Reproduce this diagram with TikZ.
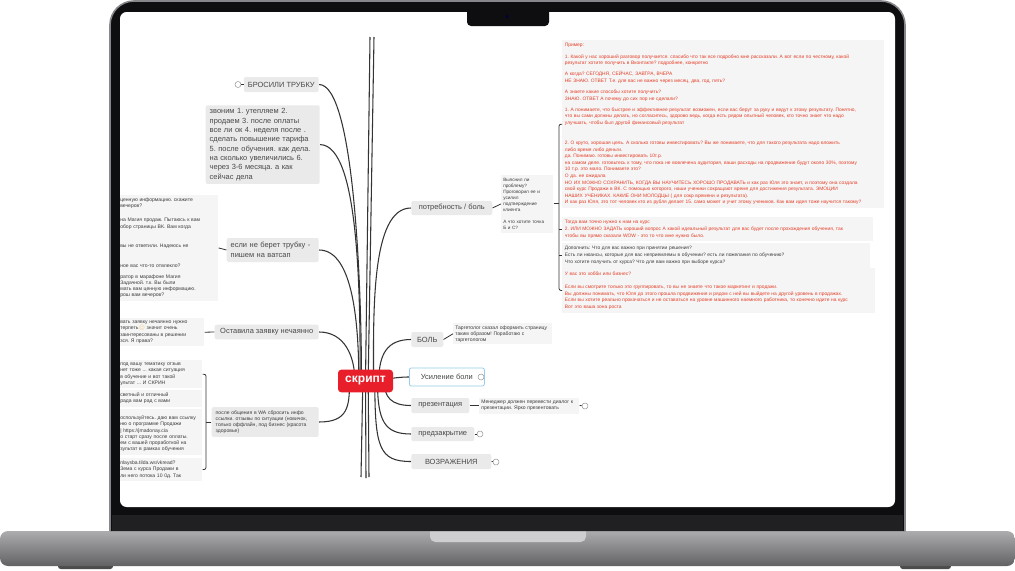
\documentclass[tikz,border=0pt]{standalone}
\usepackage{fontspec}
\setmainfont{Liberation Sans}
\newfontfamily\emojifont{Noto Emoji}
\frenchspacing

\definecolor{lidblack}{RGB}{14,14,16}
\definecolor{lidedge}{RGB}{135,135,139}
\definecolor{hingegray}{RGB}{32,32,34}
\definecolor{basetop}{RGB}{172,172,175}
\definecolor{basemid}{RGB}{150,150,153}
\definecolor{basedark}{RGB}{98,98,101}
\definecolor{notchgray}{RGB}{206,206,209}
\definecolor{rootred}{RGB}{232,30,42}
\definecolor{topicgray}{RGB}{234,234,234}
\definecolor{notegray}{RGB}{245,245,245}
\definecolor{topictext}{RGB}{72,72,72}
\definecolor{notetext}{RGB}{60,60,60}
\definecolor{redtext}{RGB}{229,62,38}
\definecolor{linegray}{RGB}{52,52,52}
\definecolor{selblue}{RGB}{150,205,235}
\definecolor{emojiyellow}{RGB}{225,165,30}

\newcommand\topicfont{\fontsize{5.6}{7.5}\selectfont}
\newcommand\stepsfont{\fontsize{5.6}{7}\selectfont}
\newcommand\notefont{\fontsize{3.8}{4.6}\selectfont}
\newcommand\sidefont{\fontsize{3.8}{4.7}\selectfont}
\newcommand\qfont{\fontsize{3.5}{4.5}\selectfont}
\newcommand\redfont{\fontsize{3.65}{4.95}\selectfont}
\newcommand\rootfont{\fontsize{9}{10}\selectfont\bfseries}

\pgfdeclarelayer{back}
\pgfdeclarelayer{edges}
\pgfsetlayers{back,edges,main}

\begin{document}
\begin{tikzpicture}[x=0.75pt,y=-0.75pt,
  topic/.style={fill=topicgray,rounded corners=1.5pt,text=topictext,font=\topicfont,inner xsep=3pt,inner ysep=1pt,align=left},
  note/.style={fill=notegray,text=notetext,font=\notefont,inner xsep=1.5pt,inner ysep=2pt,align=left},
  sidenote/.style={note,font=\sidefont,anchor=north west,text width=60pt},
  rednote/.style={fill=notegray,text=redtext,font=\redfont,inner xsep=2pt,inner ysep=2.5pt,align=left,anchor=north west},
  branch/.style={draw=linegray,line width=0.8pt},
  twig/.style={draw=linegray,line width=0.6pt},
  fold/.style={circle,draw=gray!80,fill=white,line width=0.4pt,minimum size=4.5pt,inner sep=0pt}]
  \useasboundingbox (0,0) rectangle (1015,571);

  \begin{pgfonlayer}{back}
    \fill[white] (0,0) rectangle (1015,571);
    \fill[black!70,rounded corners=2pt] (58,562) rectangle (113,569);
    \fill[black!70,rounded corners=2pt] (900,562) rectangle (951,569);
    \shade[top color=basetop,middle color=basemid,bottom color=basedark,rounded corners=6pt] (0,531) rectangle (1015,566);
    \fill[notchgray,rounded corners=4pt] (430,526) rectangle (586,542);
    \draw[fill=lidblack,draw=lidedge,line width=1.2pt,rounded corners=18pt] (110,531) -- (110,1) -- (905,1) -- (905,531);
    \fill[hingegray] (112,515) rectangle (903,531);
    \fill[white,rounded corners=5pt] (120,12) rectangle (895,507);
    \fill[lidblack,rounded corners=3pt] (467,6) rectangle (549,26);
    \fill[blue!25!black] (507,16.5) circle (1.2pt);
  \end{pgfonlayer}

  \node[fill=rootred,text=white,font=\rootfont,rounded corners=2.5pt,minimum width=41.25pt,minimum height=17pt,inner sep=0pt] (root) at (365.5,381) {скрипт};

  \node[topic,anchor=east,minimum width=55.5pt,minimum height=11.25pt] (drop) at (319,84.5) {БРОСИЛИ ТРУБКУ};
  \node[topic,anchor=north east,text width=79.5pt,font=\stepsfont,inner ysep=2.5pt] (calls) at (320,105) {звоним 1. утепляем 2.\\продаем 3. после оплаты\\все ли ок 4. неделя после .\\сделать повышение тарифа\\5. после обучения. как дела.\\на сколько увеличились 6.\\через 3-6 месяца. а как\\сейчас дела};
  \node[topic,anchor=east,text width=63pt,minimum height=18pt] (nocall) at (319,250) {если не берет трубку -\\пишем на ватсап};
  \node[topic,anchor=east,minimum width=78pt,minimum height=11pt] (byerr) at (319,332) {Оставила заявку нечаянно};
  \node[topic,anchor=east,text width=74.25pt,font=\notefont,text=notetext,inner ysep=2.5pt] (afterwa) at (319,422) {после общения в WA сбросить инфо\\ссылки. отзывы по ситуации (новичок,\\только оффлайн, под бизнес (красота\\здоровье)};

  \node[topic,anchor=west,minimum width=60.75pt,minimum height=10.5pt] (need) at (411,208) {потребность / боль};
  \node[topic,anchor=west,minimum width=24pt,minimum height=11.25pt] (pain) at (411,339.5) {БОЛЬ};
  \node[topic,anchor=west,fill=white,draw=selblue,line width=0.6pt,minimum width=56.25pt,minimum height=13.5pt] (boost) at (409,377) {Усиление боли};
  \node[topic,anchor=west,minimum width=43.5pt,minimum height=11.25pt] (pres) at (411,405.5) {презентация};
  \node[topic,anchor=west,minimum width=47.25pt,minimum height=10.5pt] (preclose) at (411,434) {предзакрытие};
  \node[topic,anchor=west,minimum width=60pt,minimum height=11.25pt] (objections) at (411,461.5) {ВОЗРАЖЕНИЯ};

  \node[note,anchor=north west,text width=36pt,font=\qfont] (needq) at (501,175) {Выяснил ли\\проблему?\\Проговорил ее и\\усилил\\подтверждение\\клиента\\[5pt] А что хотите точка\\Б и С?};
  \node[note,anchor=north west,text width=71pt,text depth=9pt] (painq) at (453,323) {Таргетолог сказал оформить страницу\\таким образом! Поработаю с\\таргетологом};
  \node[note,anchor=west,text width=72pt] (presq) at (479,405.5) {Менеджер должен перевести диалог к\\презентации. Ярко презентовать};

  \begin{scope}
    \clip (120,12) rectangle (895,507);
    \node[sidenote,text width=72pt] (nocallq) at (118,195) {ценную информацию. скажите\\вечеров?\\[5.8pt]на Магия продаж. Пытаюсь к вам\\обор страницы ВК. Вам когда\\[9.5pt]вы не ответили. Надеюсь не\\[10.3pt]ное вас что-то отвлекло?\\[3.5pt]ратор в марафоне Магия\\Задачной. т.к. Вы были\\мать вам ценную информацию.\\рош вам вечеров?};
    \node[sidenote,text width=61.5pt] (byerrq) at (118,318) {вать заявку нечаянно нужно\\терпеть{\emojifont\textcolor{emojiyellow}{😊}} значит очень\\заинтересованы в решении\\зся. Я права?};
    \node[sidenote] (casea) at (118,360) {под вашу тематику отзыв\\нет тоже ... какая ситуация\\в обучение и вот такой\\ультат ... И СКРИН};
    \node[sidenote] (caseb) at (118,390) {светный и отличный\\рада вам рад с вами};
    \node[sidenote] (casec) at (118,409) {\mbox{}\\[1pt]оспользуйтесь. даю вам ссылку\\ню о программе Продажи\\| https://jmadonay.cia\\о старт сразу после оплаты.\\ем с вашей проработкой на\\зультат в рамках обучения};
    \node[sidenote] (cased) at (118,458) {nlaysba.tilda.ws/vkread?\\Зема с курса Продажи в\\ли него потока 10 0д. Так};
  \end{scope}

  \node[rednote,text width=237.5pt] (ex1) at (562,40) {Пример:\\[3.4pt] 1. Какой у нас хороший разговор получается. спасибо что так все подробно мне рассказали. А вот если по честному, какой\\результат хотите получить в Вконтакте? подробнее, конкретно\\[3.4pt]А когда? СЕГОДНЯ, СЕЙЧАС, ЗАВТРА, ВЧЕРА\\НЕ ЗНАЮ. ОТВЕТ Т.е. для вас не важно через месяц, два, год, пять?\\[3.4pt]А знаете какие способы хотите получить?\\ЗНАЮ. ОТВЕТ А почему до сих пор не сделали?\\[3.4pt]1. А понимаете, что быстрее и эффективнее результат возможен, если вас берут за руку и ведут к этому результату. Понятно,\\что вы сами должны делать, но согласитесь, здорово ведь, когда есть рядом опытный человек, кто точно знает что надо\\улучшать, чтобы был другой финансовый результат\\[10pt] 2. О круто, хорошая цель. А сколько готовы инвестировать?  Вы же понимаете,  что для такого результата надо вложить\\либо  время либо деньги.\\да. Понимаю. готовы инвестировать 10т.р.\\на самом деле. готовьтесь к тому, что пока не вовлечена аудитория, ваши расходы на продвижение будут около 30\%, поэтому\\10 т.р. это мало.  Понимаете это?\\О да. не ожидала\\НО ИХ МОЖНО СОХРАНИТЬ, КОГДА ВЫ НАУЧИТЕСЬ ХОРОШО ПРОДАВАТЬ и как раз Юля это знает, и поэтому она создала\\свой курс Продажи в ВК. С помощью которого, наши ученики сокращают время для достижения результата. ЭМОЦИИ\\НАШИХ УЧЕНИКАХ. КАКИЕ ОНИ МОЛОДЦЫ (  для сокр времени и результата).\\И как раз Юля, это тот человек кто из рубля делает 15. само может и учит этому учеников. Как вам идея тоже научится такому?};
  \node[rednote,text width=229.25pt] (ex2) at (562,217) {Тогда вам точно нужно к нам на курс\\2. ИЛИ МОЖНО ЗАДАТЬ  хороший вопрос А какой идеальный результат для вас будет после прохождения обучения,  так\\чтобы вы прямо сказали WOW - это то  что мне нужно было.};
  \node[rednote,text width=227pt,text=notetext] (ex3) at (562,243) {Дополнить: Что для вас важно при принятии решения?\\ Есть ли нюансы, которые для вас неприемлемы в обучении? есть ли пожелания по обучению?\\ Что хотите получить от курса? Что для вам важно при выборе курса?};
  \node[rednote,text width=230.75pt] (ex4) at (562,268) {У вас это хобби или бизнес?\\[5pt]Если вы смотрите только это группировать, то вы не знаете что такое маркетинг и продажи.\\Вы должны понимать, что Юля до этого прошла продвижения и рядом с ней вы выйдете на другой уровень в продажах.\\Если вы хотите реально прокачаться и не оставаться на уровне машинного наемного работника, то конечно идите на курс\\Вот это ваша зона роста};

  \node[fold] (dropfold) at (238,84.5) {};
  \node[fold] (boostfold) at (481,377) {};
  \node[fold] (presfold) at (585,406) {};
  \node[fold] (preclosefold) at (480,434) {};
  \node[fold] (objfold) at (496,462) {};

  \coordinate (rspine) at (559,0);
  \coordinate (lspine) at (206,0);
  \foreach \n/\xx/\yy in {up1/370/37,up2/374/37,dn1/361/477,dn2/366/478,dn3/369/477}
    \coordinate (\n) at (\xx,\yy);

  \begin{pgfonlayer}{edges}
    \foreach \n/\s in {up1/0pt,up2/2pt,dn1/-2pt,dn2/0pt,dn3/2pt}
      \draw[branch] ([xshift=\s]root.center) -- (\n);
    \draw[branch] ([xshift=-3pt]root.center) to[out=90,in=0,out distance=75pt,in distance=26pt] (drop.east);
    \draw[branch] ([xshift=-4pt]root.center) to[out=90,in=0,out distance=60pt,in distance=30pt] (calls.east);
    \draw[branch] ([xshift=-5pt]root.center) to[out=90,in=0,out distance=41pt,in distance=26pt] (nocall.east);
    \draw[branch] ([xshift=-8pt]root.center) to[out=90,in=0,out distance=19pt,in distance=19pt] (byerr.east);
    \draw[branch] ([xshift=-12pt]root.center) to[out=-90,in=0,out distance=19pt,in distance=22pt] (afterwa.east);
    \draw[branch] ([xshift=6pt]root.center) to[out=90,in=180,out distance=52pt,in distance=30pt] (need.west);
    \draw[branch] ([xshift=10pt]root.center) to[out=90,in=180,out distance=20pt,in distance=18pt] (pain.west);
    \draw[branch] (root.center) to[out=0,in=180] (boost.west);
    \draw[branch] ([xshift=14pt]root.center) to[out=-90,in=180,out distance=12pt,in distance=15pt] (pres.west);
    \draw[branch] ([xshift=9pt]root.center) to[out=-90,in=180,out distance=30pt,in distance=20pt] (preclose.west);
    \draw[branch] ([xshift=7pt]root.center) to[out=-90,in=180,out distance=50pt,in distance=24pt] (objections.west);
  \end{pgfonlayer}

  \draw[twig] (dropfold) -- (drop.west);
  \draw[twig] (presq.east) -- (presfold);
  \draw[twig] (preclose.east) -- (preclosefold);
  \draw[twig] (objections.east) -- (objfold);
  \draw[twig] (nocall.west) -- (nocallq.east);
  \draw[twig] (byerr.west) -- (byerrq.east);
  \draw[twig] (need.east) -- (needq.west);
  \draw[twig] (pain.east) -- (painq.west);
  \draw[twig] (pres.east) -- (presq.west);
  \draw[twig] (needq.east) -- (needq.east -| rspine);
  \draw[twig,rounded corners=1.5pt] (ex1.west) -- (ex1.west -| rspine) -- (ex4.west -| rspine) -- (ex4.west);
  \draw[twig] (ex2.west -| rspine) -- (ex2.west);
  \draw[twig] (ex3.west -| rspine) -- (ex3.west);
  \draw[twig] (afterwa.west) -- (afterwa.west -| lspine);
  \draw[twig,rounded corners=1.5pt] (casea.east) -- (casea.east -| lspine) -- (cased.east -| lspine) -- (cased.east);
\end{tikzpicture}
\end{document}
